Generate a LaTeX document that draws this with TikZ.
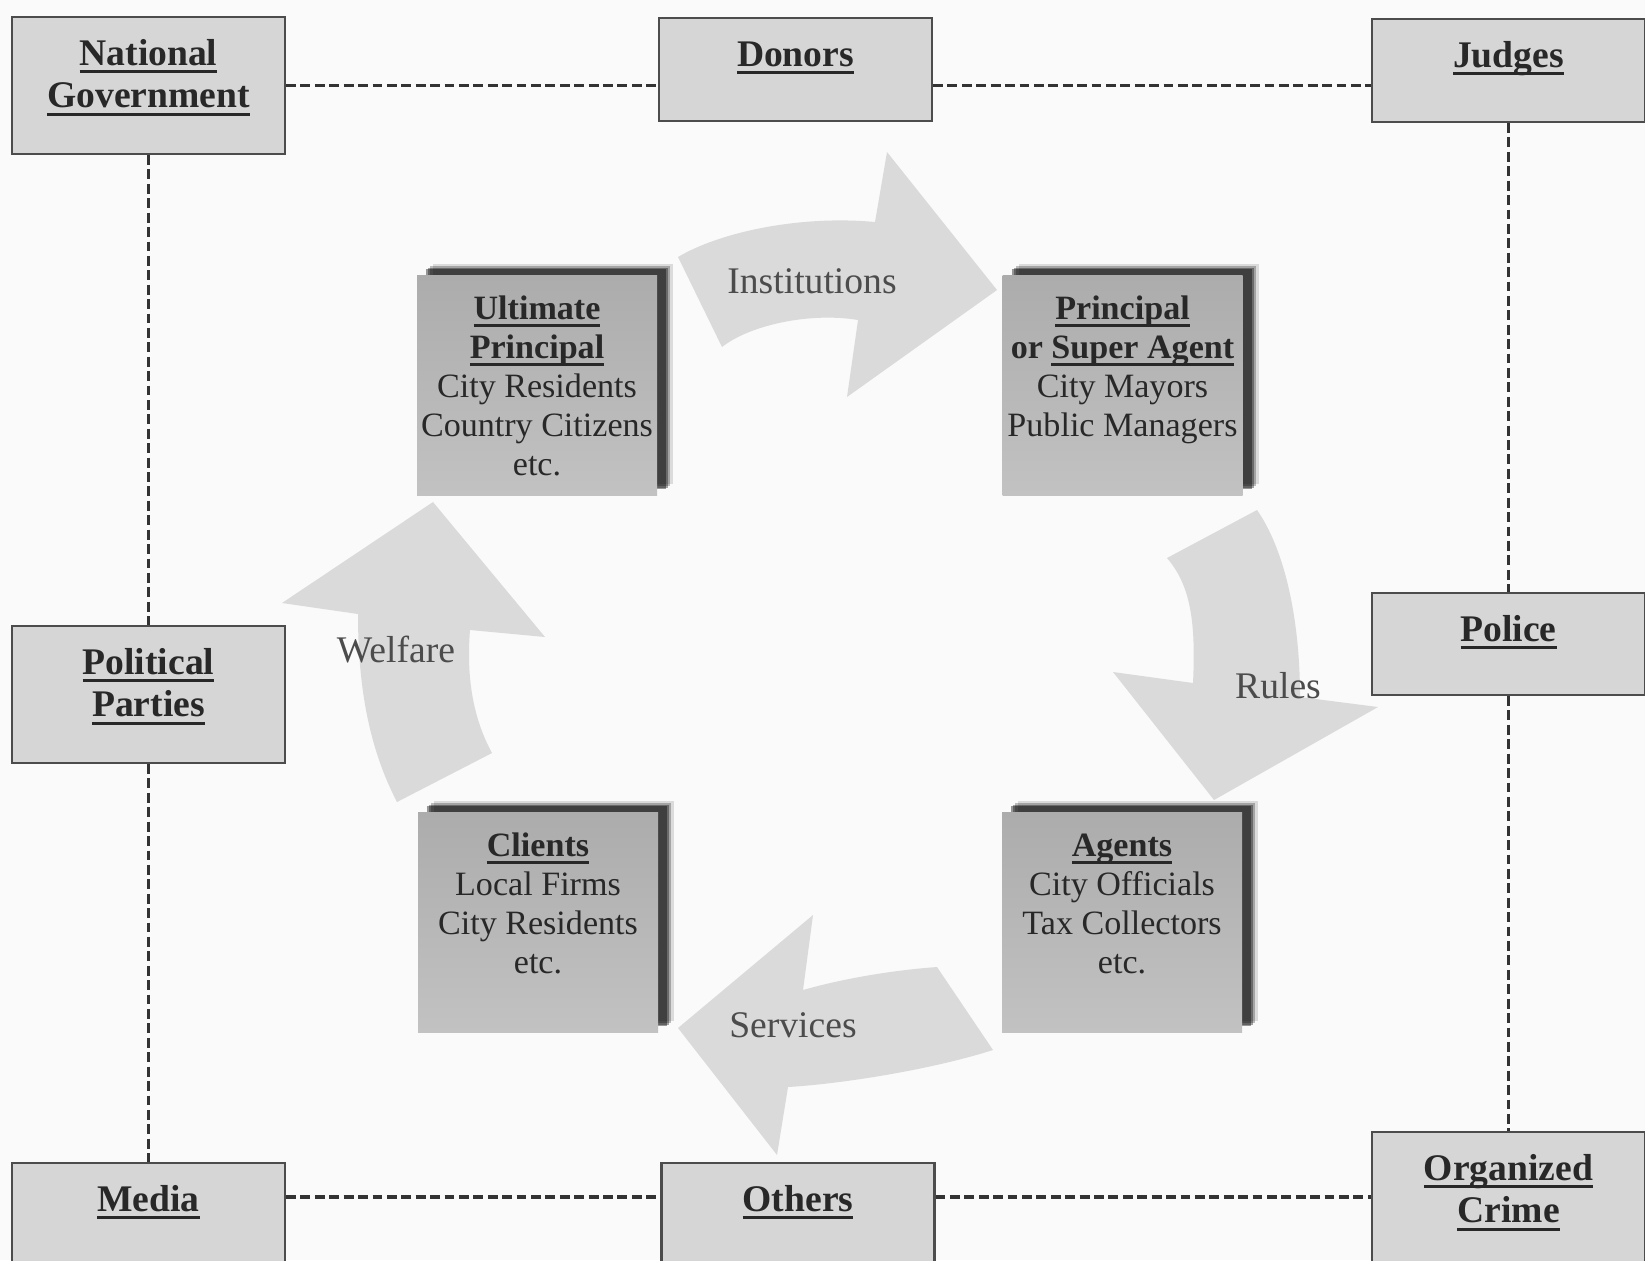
\documentclass[tikz,border=0pt]{standalone}
\usepackage{fontspec}
\setmainfont{Liberation Serif}
\usetikzlibrary{shadows}

\definecolor{paper}{RGB}{250,250,250}
\definecolor{boxgray}{RGB}{214,214,214}
\definecolor{facetop}{RGB}{172,172,172}
\definecolor{facebottom}{RGB}{194,194,194}
\definecolor{arrowgray}{RGB}{218,218,218}
\definecolor{inkgray}{RGB}{40,40,40}

% thick underline
\newsavebox{\ulbox}
\newcommand{\uln}[1]{\leavevmode\sbox{\ulbox}{#1}\rlap{\rule[-2.2pt]{\wd\ulbox}{0.8pt}}\usebox{\ulbox}}
% text pinned to the top of a box
\newcommand{\outertext}[2]{\parbox[c][#1][t]{2.6cm}{\centering\rule{0pt}{0.48cm}#2}}
\newcommand{\innertext}[1]{\parbox[c][2.2cm][t]{2.4cm}{\centering\rule{0pt}{0.44cm}#1}}

\begin{document}
\begin{tikzpicture}[
    x=0.1mm, y=-0.1mm,
    outerbox/.style={rectangle, draw=black!70, line width=0.6pt, fill=boxgray, inner sep=0pt, minimum width=2.73cm, font=\fontsize{10.7}{12.2}\selectfont\bfseries, text=inkgray},
    innerbox/.style={rectangle, inner sep=0pt, minimum width=2.4cm, minimum height=2.2cm, top color=facetop, bottom color=facebottom, font=\fontsize{9.7}{11.1}\selectfont, text=inkgray,
      drop shadow={shadow xshift=1.6mm, shadow yshift=1.1mm, fill=black, opacity=0.12},
      drop shadow={shadow xshift=1.3mm, shadow yshift=0.9mm, fill=black, opacity=0.25},
      drop shadow={shadow xshift=1.1mm, shadow yshift=0.75mm, fill=black, opacity=0.35},
      drop shadow={shadow xshift=0.9mm, shadow yshift=0.6mm, fill=black, opacity=0.4}},
    link/.style={draw=black!80, line width=0.9pt, dash pattern=on 2.8pt off 1.3pt},
    flow/.style={fill=arrowgray},
    flowlabel/.style={font=\fontsize{10.7}{12}\selectfont, text=black!70}
    ]

    \useasboundingbox (0,0) rectangle (1645,1260);
    \clip (0,0) rectangle (1645,1260);
    \fill[paper] (0,0) rectangle (1645,1260);

    % outside actors
    \node[outerbox] (natgov) at (148.5,85.5) {\outertext{1.37cm}{\uln{National}\\\uln{Government}}};
    \node[outerbox] (donors) at (795.5,69.5) {\outertext{1.03cm}{\uln{Donors}}};
    \node[outerbox] (judges) at (1508.5,70.5) {\outertext{1.03cm}{\uln{Judges}}};
    \node[outerbox] (parties) at (148.5,694.5) {\outertext{1.37cm}{\uln{Political}\\\uln{Parties}}};
    \node[outerbox] (police) at (1508.5,644) {\outertext{1.02cm}{\uln{Police}}};
    \node[outerbox] (media) at (148.5,1231.5) {\outertext{1.37cm}{\uln{Media}}};
    \node[outerbox] (others) at (798,1231.5) {\outertext{1.37cm}{\uln{Others}}};
    \node[outerbox] (crime) at (1508.5,1200.5) {\outertext{1.37cm}{\uln{Organized}\\\uln{Crime}}};

    \draw[link] (natgov.east) -- (natgov.east -| donors.west);
    \draw[link] (donors.east |- natgov.east) -- (natgov.east -| judges.west);
    \draw[link] (natgov.south) -- (parties.north);
    \draw[link] (parties.south) -- (media.north);
    \draw[link] (judges.south) -- (police.north);
    \draw[link] (police.south) -- (crime.north);
    \draw[link] ([yshift=-3.5mm]media.north east) -- ([yshift=-3.5mm]others.north west);
    \draw[link] ([yshift=-3.5mm]others.north east) -- ([yshift=-3.5mm]others.north east -| crime.west);

    % circular flows
    \fill[flow] (678,257) .. controls (720,232) and (800,215) .. (875,222) -- (887,152) -- (997,290) -- (847,397) -- (858,320) .. controls (810,312) and (750,325) .. (722,347) -- cycle;
    \fill[flow] (1257,510) .. controls (1285,550) and (1300,620) .. (1300,697) -- (1378,707) -- (1214,800) -- (1113,672) -- (1193,683) .. controls (1196,620) and (1190,585) .. (1167,558) -- cycle;
    \fill[flow] (993,1050) .. controls (930,1070) and (840,1084) .. (788,1087) -- (777,1155) -- (678,1028) -- (813,915) -- (803,990) .. controls (845,978) and (895,970) .. (937,967) -- cycle;
    \fill[flow] (397,802) .. controls (370,750) and (358,690) .. (358,614) -- (282,603) -- (433,502) -- (545,637) -- (470,630) .. controls (466,680) and (474,720) .. (492,753) -- cycle;

    \node[flowlabel] (institutions) at (812,281) {Institutions};
    \node[flowlabel] (rules) at (1278,686) {Rules};
    \node[flowlabel] (services) at (793,1025) {Services};
    \node[flowlabel] (welfare) at (396,650) {Welfare};

    % the four parties of the chain
    \node[innerbox] (ultimate) at (537,385) {\innertext{\textbf{\uln{Ultimate}}\\\textbf{\uln{Principal}}\\City Residents\\Country Citizens\\etc.}};
    \node[innerbox] (principal) at (1122.5,385) {\innertext{\textbf{\uln{Principal}}\\\textbf{or \uln{Super Agent}}\\City Mayors\\Public Managers}};
    \node[innerbox] (clients) at (538,922) {\innertext{\textbf{\uln{Clients}}\\Local Firms\\City Residents\\etc.}};
    \node[innerbox] (agents) at (1122,922) {\innertext{\textbf{\uln{Agents}}\\City Officials\\Tax Collectors\\etc.}};

\end{tikzpicture}
\end{document}
